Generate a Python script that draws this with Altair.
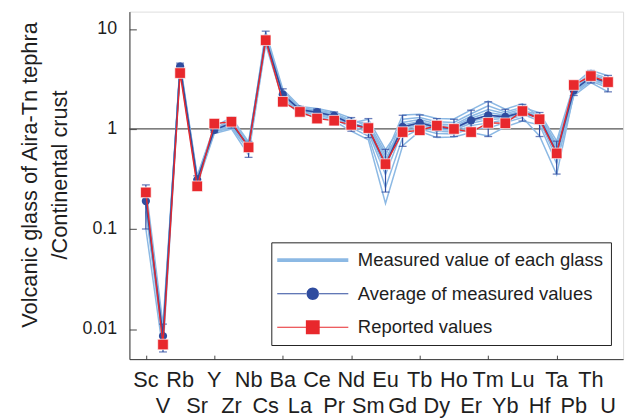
import altair as alt
import pandas as pd

elements = ["Sc", "V", "Rb", "Sr", "Y", "Zr", "Nb", "Cs", "Ba", "La", "Ce", "Pr", "Nd", "Sm",
            "Eu", "Gd", "Tb", "Dy", "Ho", "Er", "Tm", "Yb", "Lu", "Hf", "Ta", "Pb", "Th", "U"]

# measured value of each glass (normalised to continental crust)
glass_1 = [0.26, 0.011, 4.25, 0.315, 0.99, 1.15, 0.69, 8.8, 2.4, 1.64, 1.55, 1.44, 1.22, 1.10, 0.54, 1.38, 1.40, 1.27, 1.26, 1.55, 1.90, 1.58, 1.78, 1.31, 0.60, 2.55, 3.5, 3.10]
glass_2 = [0.21, 0.009, 4.6, 0.34, 1.06, 1.30, 0.74, 8.0, 2.2, 1.56, 1.47, 1.36, 1.15, 1.25, 0.62, 1.10, 1.19, 1.08, 1.06, 1.28, 1.46, 1.37, 1.52, 1.40, 0.70, 2.41, 3.25, 2.87]
glass_3 = [0.19, 0.0083, 4.1, 0.305, 0.96, 1.08, 0.66, 9.4, 2.5, 1.68, 1.60, 1.48, 1.28, 1.03, 0.47, 1.25, 1.30, 1.18, 1.16, 1.42, 1.70, 1.48, 1.65, 1.45, 0.76, 2.75, 3.85, 3.40]
glass_4 = [0.22, 0.0095, 4.3, 0.32, 1.0, 1.18, 0.70, 7.7, 2.12, 1.53, 1.43, 1.32, 1.11, 1.06, 0.50, 1.02, 1.12, 1.02, 1.0, 1.19, 1.31, 1.30, 1.45, 1.37, 0.66, 2.45, 3.32, 2.93]
glass_5 = [0.19, 0.0085, 4.15, 0.31, 0.97, 1.10, 0.67, 8.4, 2.3, 1.6, 1.52, 1.40, 1.19, 1.15, 0.58, 0.92, 1.05, 0.95, 0.93, 1.08, 1.15, 1.23, 1.36, 1.34, 0.63, 2.62, 3.62, 3.22]
glass_6 = [0.20, 0.0088, 4.4, 0.33, 1.02, 1.22, 0.72, 7.9, 2.18, 1.55, 1.45, 1.34, 1.13, 0.97, 0.40, 1.16, 1.24, 1.12, 1.10, 1.34, 1.56, 1.42, 1.58, 1.25, 0.55, 2.32, 3.10, 2.72]
glass_7 = [0.17, 0.0078, 4.2, 0.31, 0.98, 1.12, 0.68, 8.2, 2.25, 1.58, 1.49, 1.38, 1.17, 1.0, 0.44, 1.06, 1.15, 1.05, 1.03, 1.23, 1.38, 1.33, 1.48, 1.28, 0.58, 2.49, 3.4, 3.0]
glass_8 = [0.18, 0.008, 4.0, 0.295, 0.93, 1.03, 0.61, 7.5, 2.08, 1.51, 1.41, 1.30, 1.08, 0.92, 0.35, 0.98, 1.09, 0.99, 0.97, 1.14, 1.24, 1.27, 1.41, 1.20, 0.51, 2.37, 3.18, 2.80]
glass_9 = [0.15, 0.0072, 4.05, 0.30, 0.95, 1.06, 0.64, 7.3, 2.02, 1.48, 1.38, 1.26, 1.03, 0.85, 0.26, 0.82, 1.00, 0.90, 0.89, 1.01, 1.02, 1.16, 1.30, 0.85, 0.35, 2.25, 3.00, 2.60]
glass_10 = [0.10, 0.006, 3.85, 0.28, 0.90, 1.00, 0.55, 7.0, 1.95, 1.42, 1.33, 1.20, 0.95, 0.78, 0.18, 0.68, 0.95, 0.82, 0.83, 0.92, 0.85, 1.05, 1.20, 1.10, 0.45, 2.15, 2.90, 2.35]
glasses = [glass_1, glass_2, glass_3, glass_4, glass_5, glass_6, glass_7, glass_8, glass_9, glass_10]

average = [0.19, 0.0085, 4.21, 0.31, 0.98, 1.14, 0.67, 8.0, 2.21, 1.56, 1.47, 1.35, 1.13, 1.01, 0.44, 1.05, 1.15, 1.04, 1.01, 1.22, 1.37, 1.32, 1.47, 1.29, 0.58, 2.44, 3.3, 2.9]
avg_low = [0.10, 0.0059, 3.9, 0.28, 0.92, 1.02, 0.52, 6.9, 1.95, 1.45, 1.35, 1.22, 0.95, 0.82, 0.234, 0.67, 0.95, 0.83, 0.84, 0.95, 0.84, 1.10, 1.20, 0.84, 0.354, 2.16, 2.88, 2.35]
avg_high = [0.276, 0.0112, 4.55, 0.34, 1.05, 1.32, 0.75, 9.5, 2.52, 1.68, 1.58, 1.48, 1.30, 1.27, 0.625, 1.37, 1.38, 1.27, 1.25, 1.54, 1.87, 1.57, 1.76, 1.46, 0.755, 2.75, 3.84, 3.43]
reported = [0.232, 0.0070, 3.62, 0.267, 1.13, 1.18, 0.655, 7.72, 1.87, 1.48, 1.27, 1.21, 1.10, 1.02, 0.445, 0.93, 0.97, 1.08, 1.0, 0.93, 1.15, 1.14, 1.51, 1.25, 0.57, 2.75, 3.38, 2.94]

y_ticks = [0.01, 0.1, 1, 10]

S_GLASS = "Measured value of each glass"
S_AVG = "Average of measured values"
S_REP = "Reported values"

LIGHT = "#8cb9e4"
DARK = "#2f4c9f"
RED = "#e8282c"
FONT = "Liberation Sans"
TXT = "#1e1e1e"

idx = list(range(len(elements)))
glass_df = pd.DataFrame([
    {"idx": i, "element": elements[i], "glass": g + 1, "value": vals[i]}
    for g, vals in enumerate(glasses) for i in idx
])
avg_df = pd.DataFrame({"idx": idx, "element": elements, "value": average,
                       "low": avg_low, "high": avg_high})
rep_df = pd.DataFrame({"idx": idx, "element": elements, "value": reported})
label_df = pd.DataFrame({"idx": idx, "element": elements, "row": [i % 2 for i in idx]})
legend_df = pd.DataFrame({"series": [S_GLASS, S_AVG, S_REP],
                          "idx": [None, None, None], "value": [None, None, None]})

x_scale = alt.Scale(domain=[-0.96, 27.88], nice=False, zero=False)
x_enc = alt.X("idx:Q", scale=x_scale,
              axis=alt.Axis(values=idx, labels=False, title=None, grid=False,
                            tickSize=alt.ExprRef(expr="-4"), tickColor="#444",
                            domainColor="#333"))
y_scale = alt.Scale(type="log", domain=[0.005, 14.9], nice=False)
y_enc = alt.Y("value:Q", scale=y_scale,
              axis=alt.Axis(values=y_ticks, format="~g", grid=False,
                            title=["Volcanic glass of Aira-Tn tephra", "/Continental crust"],
                            titleFontSize=22, titleFont=FONT, titleFontWeight="normal",
                            titleColor=TXT, titleLineHeight=30, titleX=-89, titleY=165,
                            titleAlign="center", titleBaseline="bottom", titleAngle=270,
                            labelFontSize=18, labelFont=FONT, labelColor=TXT,
                            labelPadding=20, tickSize=alt.ExprRef(expr="-7"),
                            tickColor="#444", domainColor="#333"))

glass_lines = alt.Chart(glass_df).mark_line(color=LIGHT, strokeWidth=1.5).encode(
    x=x_enc, y=y_enc, detail="glass:N")

one_line = alt.Chart(pd.DataFrame({"v": [1]})).mark_rule(color="#555", strokeWidth=1.3).encode(
    y=alt.Y("v:Q", scale=y_scale))

err_rule = alt.Chart(avg_df).mark_rule(color=DARK, strokeWidth=1.2).encode(
    x="idx:Q", y=alt.Y("low:Q", scale=y_scale), y2="high:Q")
err_cap_lo = alt.Chart(avg_df).mark_tick(color=DARK, orient="horizontal", size=8, thickness=1.3).encode(
    x="idx:Q", y=alt.Y("low:Q", scale=y_scale))
err_cap_hi = alt.Chart(avg_df).mark_tick(color=DARK, orient="horizontal", size=8, thickness=1.3).encode(
    x="idx:Q", y=alt.Y("high:Q", scale=y_scale))

avg_line = alt.Chart(avg_df).mark_line(color=DARK, strokeWidth=1.6).encode(x="idx:Q", y="value:Q")
avg_pts = alt.Chart(avg_df).mark_point(color=DARK, filled=True, size=70, opacity=1,
                                       shape="circle").encode(x="idx:Q", y="value:Q")
rep_line = alt.Chart(rep_df).mark_line(color=RED, strokeWidth=1.4).encode(x="idx:Q", y="value:Q")
rep_pts = alt.Chart(rep_df).mark_point(fill=RED, filled=True, size=115, opacity=1, shape="square",
                                       stroke="#ffffff", strokeWidth=0.7).encode(x="idx:Q", y="value:Q")

# element labels in two staggered rows under the axis
labels_top = alt.Chart(label_df).transform_filter("datum.row == 0").mark_text(
    font=FONT, fontSize=22, color=TXT, baseline="alphabetic", align="center").encode(
    x="idx:Q", y=alt.value(380.3), text="element:N")
labels_bot = alt.Chart(label_df).transform_filter("datum.row == 1").mark_text(
    font=FONT, fontSize=22, color=TXT, baseline="alphabetic", align="center").encode(
    x="idx:Q", y=alt.value(407), text="element:N")

# legend symbols: unit = 10 px (symbolSize 400), drawn 72 px wide
path_glass = "M-3.6,-0.2H3.6V0.2H-3.6Z"
path_avg = ("M-3.6,-0.055H-0.6V0.055H-3.6Z M0.6,-0.055H3.6V0.055H0.6Z "
            "M-0.63,0A0.63,0.63 0 1,0 0.63,0A0.63,0.63 0 1,0 -0.63,0Z")
path_rep = ("M-3.6,-0.055H-0.7V0.055H-3.6Z M0.7,-0.055H3.6V0.055H0.7Z "
            "M-0.7,-0.7H0.7V0.7H-0.7Z")

leg = alt.Legend(title=None, orient="none", legendX=143.7, legendY=233.7, padding=8,
                 symbolSize=400, symbolStrokeWidth=0, symbolOffset=24, labelOffset=35.6,
                 labelFontSize=18.7, labelFont=FONT, labelColor=TXT, strokeColor="#222",
                 rowPadding=14, labelLimit=400)
legend_layer = alt.Chart(legend_df).mark_point(filled=True, size=400, opacity=1).encode(
    x="idx:Q", y="value:Q",
    color=alt.Color("series:N", scale=alt.Scale(domain=[S_GLASS, S_AVG, S_REP],
                                                range=[LIGHT, DARK, RED]), legend=leg, sort=None),
    shape=alt.Shape("series:N", scale=alt.Scale(domain=[S_GLASS, S_AVG, S_REP],
                                                range=[path_glass, path_avg, path_rep]),
                    legend=leg, sort=None),
)

chart = alt.layer(one_line, glass_lines, err_rule, err_cap_lo, err_cap_hi, avg_line, avg_pts,
                  rep_line, rep_pts, labels_top, labels_bot, legend_layer).properties(
    width=500, height=352,
    autosize=alt.AutoSizeParams(type="none"),
    padding={"left": 123, "top": 1, "right": 7, "bottom": 59},
).configure_view(stroke="#333", strokeWidth=1.3).configure(background="white")

chart.save("out.html", embed_options={"renderer": "svg", "actions": False})
